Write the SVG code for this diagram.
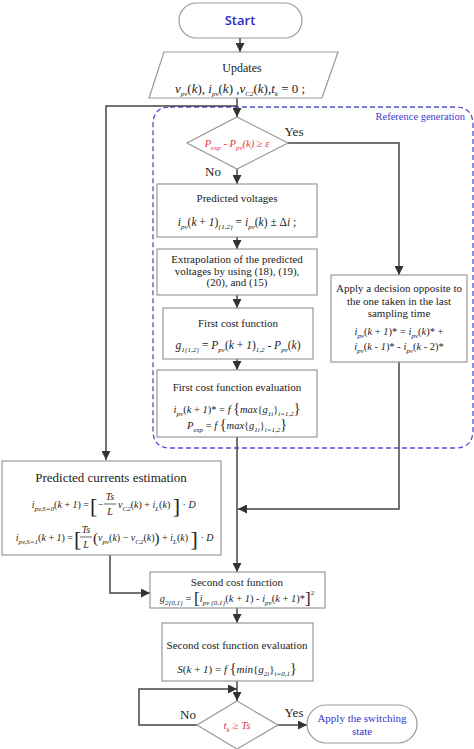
<svg xmlns="http://www.w3.org/2000/svg" width="474" height="749" viewBox="0 0 474 749" font-family="'Liberation Serif', 'Times New Roman', serif">
<defs>
<marker id="ah" viewBox="0 0 10 10" refX="10" refY="5" markerWidth="9" markerHeight="9" orient="auto" markerUnits="userSpaceOnUse"><path d="M0,0 L10,5 L0,10 z" fill="#333"/></marker>
<style>
.box{fill:#fff;stroke:#999;stroke-width:1.2}
.conn{stroke:#444;stroke-width:1.5;fill:none}
.t{font-family:'Liberation Serif','Times New Roman',serif;font-size:11px;fill:#222;text-anchor:middle}
.st{font-family:'Liberation Serif','Times New Roman',serif;font-size:11px;fill:#222}
.i{font-style:italic}
.s{font-size:7px;font-style:italic}
.red{fill:#e8324f}
.blue{fill:#3333cc}
.lbl{font-family:'Liberation Serif','Times New Roman',serif;font-size:13px;fill:#222;text-anchor:middle}
</style>
</defs>
<rect width="474" height="749" fill="#fff"/>

<g id="region">
<path d="M170,107 H455 Q473,107 473,125 V430 Q473,448 455,448 H170 Q153,448 153,430 V125 Q153,107 170,107 Z" fill="none" stroke="#5050d0" stroke-width="1.3" stroke-dasharray="5,3"/>
<text x="465" y="120" class="st" style="text-anchor:end;font-size:10.5px;fill:#4040c8">Reference generation</text>
</g>

<g id="connectors">
<path class="conn" d="M240,38 V52" marker-end="url(#ah)"/>
<path class="conn" d="M237,98 V117" marker-end="url(#ah)"/>
<path class="conn" d="M237,106 H106 V460" marker-end="url(#ah)"/>
<path class="conn" d="M237,169 V184" marker-end="url(#ah)"/>
<path class="conn" d="M237,237 V249" marker-end="url(#ah)"/>
<path class="conn" d="M237,295 V308" marker-end="url(#ah)"/>
<path class="conn" d="M237,359 V370" marker-end="url(#ah)"/>
<path class="conn" d="M237,437 V572" marker-end="url(#ah)"/>
<path class="conn" d="M288,143 H399 V275" marker-end="url(#ah)"/>
<path class="conn" d="M399,362 V509 H238" marker-end="url(#ah)"/>
<path class="conn" d="M110,555 V593 H150" marker-end="url(#ah)"/>
<path class="conn" d="M237,608 V623" marker-end="url(#ah)"/>
<path class="conn" d="M237,681 V701" marker-end="url(#ah)"/>
<path class="conn" d="M197,725 H139 V689 H237" marker-end="url(#ah)"/>
<path class="conn" d="M278,725 H307" marker-end="url(#ah)"/>
<text x="294" y="136" class="lbl">Yes</text>
<text x="213" y="176" class="lbl">No</text>
<text x="188" y="719" class="lbl">No</text>
<text x="294" y="717" class="lbl">Yes</text>
</g>

<g id="start">
<rect x="179" y="3" width="123" height="35" rx="17.5" class="box"/>
<text x="240" y="25" style="font-family:'Open Sans','Liberation Sans',sans-serif;font-size:13px;font-weight:600;fill:#2a2acc;text-anchor:middle">Start</text>
</g>

<g id="updates">
<polygon points="164,52 338,52 322,98 149,98" class="box"/>
<text x="242" y="72" class="t" style="font-size:12px">Updates</text>
<text x="240" y="93" class="t" style="font-size:13px"><tspan class="i">v</tspan><tspan dy="3" class="s">pv</tspan><tspan dy="-3">(</tspan><tspan class="i">k</tspan><tspan>), </tspan><tspan class="i">i</tspan><tspan dy="3" class="s">pv</tspan><tspan dy="-3">(</tspan><tspan class="i">k</tspan><tspan>) ,</tspan><tspan class="i">v</tspan><tspan dy="3" class="s">C2</tspan><tspan dy="-3">(</tspan><tspan class="i">k</tspan><tspan>),</tspan><tspan class="i">t</tspan><tspan dy="3" class="s">k</tspan><tspan dy="-3"> = 0 ;</tspan></text>
</g>

<g id="decision1">
<polygon points="237,117 288,143 237,169 187,143" class="box"/>
<text x="237" y="147" class="t red i" style="font-size:10.5px"><tspan>P</tspan><tspan dy="3" class="s">exp</tspan><tspan dy="-3"> - P</tspan><tspan dy="3" class="s">pv</tspan><tspan dy="-3">(k) ≥ ε</tspan></text>
</g>

<g id="predicted-voltages">
<rect x="157" y="184" width="160" height="53" class="box"/>
<text x="237" y="202" class="t">Predicted voltages</text>
<text x="237" y="226" class="t" style="font-size:11.5px"><tspan class="i">i</tspan><tspan dy="3" class="s">pv</tspan><tspan dy="-3">(</tspan><tspan class="i">k</tspan><tspan> + </tspan><tspan class="i">1</tspan><tspan>)</tspan><tspan dy="3" class="s">{1,2}</tspan><tspan dy="-3"> = </tspan><tspan class="i">i</tspan><tspan dy="3" class="s">pv</tspan><tspan dy="-3">(</tspan><tspan class="i">k</tspan><tspan>) ± Δ</tspan><tspan class="i">i</tspan><tspan> ;</tspan></text>
</g>

<g id="extrapolation">
<rect x="157" y="249" width="160" height="46" class="box"/>
<text x="237" y="263" class="t">Extrapolation of the predicted</text>
<text x="237" y="274.5" class="t">voltages by using (18), (19),</text>
<text x="237" y="286" class="t">(20), and (15)</text>
</g>

<g id="first-cost">
<rect x="163" y="308" width="150" height="51" class="box"/>
<text x="238" y="327" class="t">First cost function</text>
<text x="238" y="349" class="t" style="font-size:11.5px"><tspan class="i">g</tspan><tspan dy="3" class="s">1{1,2}</tspan><tspan dy="-3"> = </tspan><tspan class="i">P</tspan><tspan dy="3" class="s">pv</tspan><tspan dy="-3">(</tspan><tspan class="i">k</tspan><tspan> + </tspan><tspan class="i">1</tspan><tspan>)</tspan><tspan dy="3" class="s">1,2</tspan><tspan dy="-3"> - </tspan><tspan class="i">P</tspan><tspan dy="3" class="s">pv</tspan><tspan dy="-3">(</tspan><tspan class="i">k</tspan><tspan>)</tspan></text>
</g>

<g id="first-eval">
<rect x="157" y="370" width="160" height="67" class="box"/>
<text x="237" y="391" class="t">First cost function evaluation</text>
<text x="237" y="413" class="t" style="font-size:10.5px"><tspan class="i">i</tspan><tspan dy="3" class="s">pv</tspan><tspan dy="-3">(</tspan><tspan class="i">k</tspan><tspan> + </tspan><tspan class="i">1</tspan><tspan>)* = </tspan><tspan class="i">f </tspan><tspan style="font-size:14px">{</tspan><tspan class="i">max</tspan><tspan>{</tspan><tspan class="i">g</tspan><tspan dy="3" class="s">1i</tspan><tspan dy="-3">}</tspan><tspan dy="3" class="s">i=1,2</tspan><tspan dy="-3" style="font-size:14px">}</tspan></text>
<text x="237" y="429" class="t" style="font-size:10.5px"><tspan class="i">P</tspan><tspan dy="3" class="s">exp</tspan><tspan dy="-3"> = </tspan><tspan class="i">f </tspan><tspan style="font-size:14px">{</tspan><tspan class="i">max</tspan><tspan>{</tspan><tspan class="i">g</tspan><tspan dy="3" class="s">1i</tspan><tspan dy="-3">}</tspan><tspan dy="3" class="s">i=1,2</tspan><tspan dy="-3" style="font-size:14px">}</tspan></text>
</g>

<g id="apply-decision">
<rect x="331" y="275" width="136" height="87" class="box"/>
<text x="399" y="292" class="t">Apply a decision opposite to</text>
<text x="399" y="305" class="t">the one taken in the last</text>
<text x="399" y="317" class="t">sampling time</text>
<text x="399" y="335" class="t" style="font-size:10.5px"><tspan class="i">i</tspan><tspan dy="3" class="s">pv</tspan><tspan dy="-3">(</tspan><tspan class="i">k</tspan><tspan> + </tspan><tspan class="i">1</tspan><tspan>)* = </tspan><tspan class="i">i</tspan><tspan dy="3" class="s">pv</tspan><tspan dy="-3">(</tspan><tspan class="i">k</tspan><tspan>)* +</tspan></text>
<text x="399" y="350" class="t" style="font-size:10.5px"><tspan class="i">i</tspan><tspan dy="3" class="s">pv</tspan><tspan dy="-3">(</tspan><tspan class="i">k</tspan><tspan> - </tspan><tspan class="i">1</tspan><tspan>)* - </tspan><tspan class="i">i</tspan><tspan dy="3" class="s">pv</tspan><tspan dy="-3">(</tspan><tspan class="i">k</tspan><tspan> - 2)*</tspan></text>
</g>

<g id="predicted-currents">
<rect x="2" y="461" width="219" height="94" class="box"/>
<text x="111" y="482" class="t" style="font-size:13px">Predicted currents estimation</text>
<text x="89" y="508" class="st" style="font-size:10px;text-anchor:end"><tspan class="i">i</tspan><tspan dy="3" class="s">pv,S=0</tspan><tspan dy="-3">(</tspan><tspan class="i">k</tspan><tspan> + </tspan><tspan class="i">1</tspan><tspan>) =</tspan></text>
<text x="90" y="513" class="st" style="font-size:22px">[</text>
<text x="98" y="508" class="st" style="font-size:10px">−</text>
<text x="110" y="500" class="t i" style="font-size:10px">Ts</text>
<line x1="104" y1="504" x2="116" y2="504" stroke="#222" stroke-width="0.7"/>
<text x="110" y="515" class="t i" style="font-size:10px">L</text>
<text x="118" y="508" class="st" style="font-size:10px"><tspan class="i">v</tspan><tspan dy="3" class="s">C2</tspan><tspan dy="-3">(</tspan><tspan class="i">k</tspan><tspan>) + </tspan><tspan class="i">i</tspan><tspan dy="3" class="s">L</tspan><tspan dy="-3">(</tspan><tspan class="i">k</tspan><tspan>) </tspan><tspan dy="5" style="font-size:22px">]</tspan><tspan dy="-5"> · </tspan><tspan class="i">D</tspan></text>

<text x="73" y="541" class="st" style="font-size:10px;text-anchor:end"><tspan class="i">i</tspan><tspan dy="3" class="s">pv,S=1</tspan><tspan dy="-3">(</tspan><tspan class="i">k</tspan><tspan> + </tspan><tspan class="i">1</tspan><tspan>) =</tspan></text>
<text x="74" y="546" class="st" style="font-size:22px">[</text>
<text x="86" y="533" class="t i" style="font-size:10px">Ts</text>
<line x1="80" y1="537" x2="92" y2="537" stroke="#222" stroke-width="0.7"/>
<text x="86" y="548" class="t i" style="font-size:10px">L</text>
<text x="93" y="541" class="st" style="font-size:10px"><tspan dy="2" style="font-size:15px">(</tspan><tspan dy="-2" class="i">v</tspan><tspan dy="3" class="s">pv</tspan><tspan dy="-3">(</tspan><tspan class="i">k</tspan><tspan>) − </tspan><tspan class="i">v</tspan><tspan dy="3" class="s">C2</tspan><tspan dy="-3">(</tspan><tspan class="i">k</tspan><tspan>)</tspan><tspan dy="2" style="font-size:15px">)</tspan><tspan dy="-2"> + </tspan><tspan class="i">i</tspan><tspan dy="3" class="s">L</tspan><tspan dy="-3">(</tspan><tspan class="i">k</tspan><tspan>) </tspan><tspan dy="5" style="font-size:22px">]</tspan><tspan dy="-5"> · </tspan><tspan class="i">D</tspan></text>
</g>

<g id="second-cost">
<rect x="150" y="572" width="175" height="36" class="box"/>
<text x="237" y="586" class="t">Second cost function</text>
<text x="237" y="602" class="t" style="font-size:10.5px"><tspan class="i">g</tspan><tspan dy="3" class="s">2{0,1}</tspan><tspan dy="-3"> = </tspan><tspan dy="2" style="font-size:17px">[</tspan><tspan dy="-2" class="i">i</tspan><tspan dy="3" class="s">pv {0,1}</tspan><tspan dy="-3">(</tspan><tspan class="i">k</tspan><tspan> + </tspan><tspan class="i">1</tspan><tspan>) - </tspan><tspan class="i">i</tspan><tspan dy="3" class="s">pv</tspan><tspan dy="-3">(</tspan><tspan class="i">k</tspan><tspan> + </tspan><tspan class="i">1</tspan><tspan>)*</tspan><tspan dy="2" style="font-size:17px">]</tspan><tspan dy="-9" style="font-size:7px">2</tspan></text>
</g>

<g id="second-eval">
<rect x="162" y="623" width="151" height="58" class="box"/>
<text x="237" y="649" class="t">Second cost function evaluation</text>
<text x="237" y="673" class="t" style="font-size:11px"><tspan class="i">S</tspan><tspan>(</tspan><tspan class="i">k</tspan><tspan> + </tspan><tspan class="i">1</tspan><tspan>) = </tspan><tspan class="i">f </tspan><tspan style="font-size:14px">{</tspan><tspan class="i">min</tspan><tspan>{</tspan><tspan class="i">g</tspan><tspan dy="3" class="s">2i</tspan><tspan dy="-3">}</tspan><tspan dy="3" class="s">i=0,1</tspan><tspan dy="-3" style="font-size:14px">}</tspan></text>
</g>

<g id="decision2">
<polygon points="237,701 278,725 237,749 197,725" class="box"/>
<text x="237" y="729" class="t red" style="font-size:11px"><tspan class="i">t</tspan><tspan dy="3" class="s">k</tspan><tspan dy="-3"> ≥ </tspan><tspan class="i">Ts</tspan></text>
</g>

<g id="apply-switching">
<rect x="307" y="705" width="110" height="38" rx="19" class="box"/>
<text x="362" y="722" class="t blue">Apply the switching</text>
<text x="362" y="735" class="t blue">state</text>
</g>
</svg>
